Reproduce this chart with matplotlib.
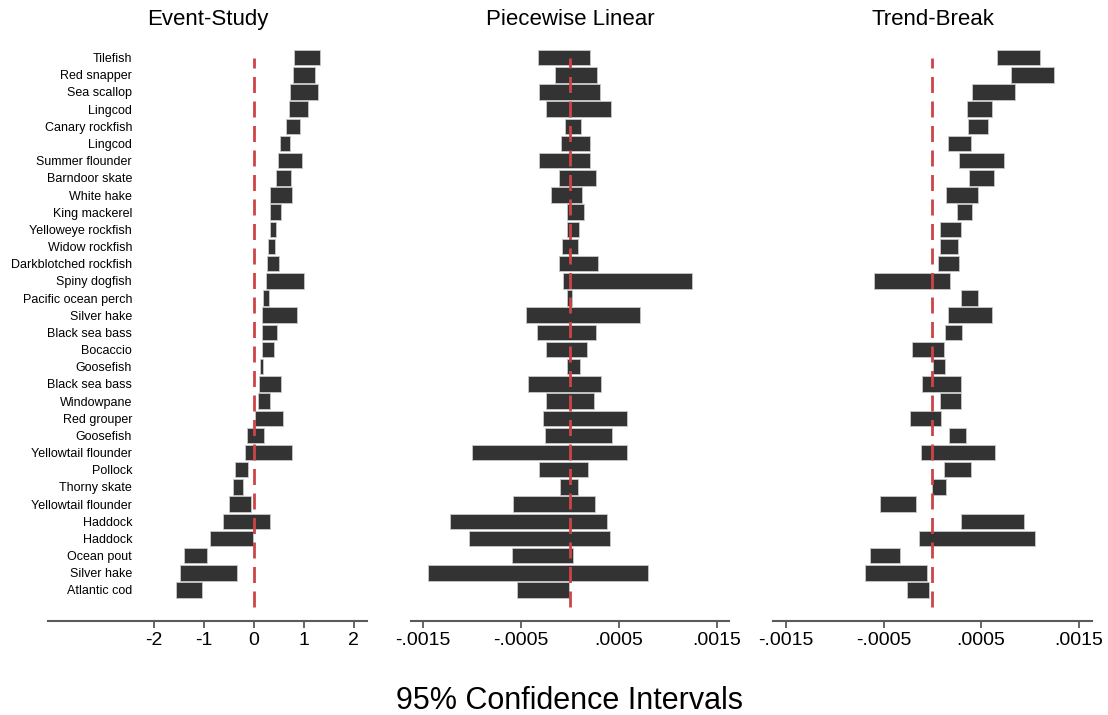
import numpy as np
import matplotlib
matplotlib.use("Agg")
import matplotlib.pyplot as plt

plt.rcParams["font.family"] = ["Liberation Sans", "DejaVu Sans"]
plt.rcParams["axes.unicode_minus"] = False

# species, top to bottom
species = [
    "Tilefish", "Red snapper", "Sea scallop", "Lingcod", "Canary rockfish",
    "Lingcod", "Summer flounder", "Barndoor skate", "White hake", "King mackerel",
    "Yelloweye rockfish", "Widow rockfish", "Darkblotched rockfish", "Spiny dogfish",
    "Pacific ocean perch", "Silver hake", "Black sea bass", "Bocaccio", "Goosefish",
    "Black sea bass", "Windowpane", "Red grouper", "Goosefish", "Yellowtail flounder",
    "Pollock", "Thorny skate", "Yellowtail flounder", "Haddock", "Haddock",
    "Ocean pout", "Silver hake", "Atlantic cod",
]

# Event-study 95% CI
es_lo = [0.81, 0.79, 0.73, 0.70, 0.65, 0.53, 0.49, 0.45, 0.33, 0.33,
         0.32, 0.29, 0.27, 0.25, 0.19, 0.17, 0.16, 0.16, 0.12, 0.11,
         0.08, 0.03, -0.14, -0.17, -0.37, -0.42, -0.49, -0.62, -0.87,
         -1.39, -1.47, -1.55]
es_hi = [1.33, 1.23, 1.29, 1.09, 0.93, 0.73, 0.97, 0.75, 0.77, 0.55,
         0.45, 0.43, 0.50, 1.00, 0.30, 0.87, 0.46, 0.41, 0.18, 0.55,
         0.32, 0.58, 0.21, 0.76, -0.11, -0.22, -0.05, 0.33, -0.01,
         -0.93, -0.33, -1.03]

# piecewise linear 95% CI, in units of 1e-4
pw_lo = [-3.21, -1.47, -3.15, -2.43, -0.44, -0.85, -3.18, -1.06, -1.95, -0.31,
         -0.24, -0.82, -1.10, -0.65, -0.31, -4.41, -3.38, -2.43, -0.27, -4.24,
         -2.43, -2.74, -2.53, -9.95, -3.08, -0.99, -5.74, -12.17, -10.26,
         -5.88, -14.46, -5.40]
pw_hi = [2.12, 2.80, 3.11, 4.17, 1.20, 2.12, 2.05, 2.67, 1.23, 1.47,
         0.96, 0.89, 2.94, 12.48, 0.24, 7.21, 2.67, 1.81, 1.06, 3.15,
         2.46, 5.81, 4.27, 5.88, 1.91, 0.89, 2.63, 3.83, 4.07,
         0.38, 8.03, -0.10]

# trend-break 95% CI, in units of 1e-4
tb_lo = [6.66, 8.06, 4.07, 3.52, 3.66, 1.61, 2.77, 3.76, 1.43, 2.53,
         0.82, 0.79, 0.58, -5.97, 2.94, 1.61, 1.30, -2.05, 0.07, -1.06,
         0.76, -2.28, 1.68, -1.13, 1.17, -0.03, -5.36, 2.97, -1.33,
         -6.38, -6.86, -2.56]
tb_hi = [11.00, 12.44, 8.44, 6.15, 5.71, 3.93, 7.32, 6.32, 4.65, 4.07,
         2.91, 2.63, 2.70, 1.81, 4.68, 6.09, 3.07, 1.20, 1.27, 2.91,
         2.91, 0.89, 3.45, 6.39, 3.97, 1.43, -1.64, 9.40, 10.55,
         -3.34, -0.51, -0.34]

titles = ["Event-Study", "Piecewise Linear", "Trend-Break"]
small_ticks = [-0.0015, -0.0005, 0.0005, 0.0015]
small_labels = ["-.0015", "-.0005", ".0005", ".0015"]

n = len(species)
ypos = np.arange(n, 0, -1)

fig = plt.figure(figsize=(11.08, 7.15), dpi=100)
bottom, height = 0.1319, 0.8122
ax1 = fig.add_axes([0.0436, bottom, 0.2874, height])
ax2 = fig.add_axes([0.3707, bottom, 0.2875, height])
ax3 = fig.add_axes([0.6979, bottom, 0.2879, height])

panels = [
    (ax1, np.array(es_lo), np.array(es_hi)),
    (ax2, np.array(pw_lo) * 1e-4, np.array(pw_hi) * 1e-4),
    (ax3, np.array(tb_lo) * 1e-4, np.array(tb_hi) * 1e-4),
]

for (ax, lo, hi), title in zip(panels, titles):
    ax.barh(ypos, hi - lo, left=lo, height=0.9, color="#333333",
            edgecolor="#c8c8c8", linewidth=0.6, zorder=2)
    # zero line, drawn bottom-up so the dash pattern starts at the bottom
    ax.plot([0, 0], [0, n], color="#cc4448", linewidth=2,
            linestyle=(0, (5.76, 3.06)), solid_capstyle="butt",
            dash_capstyle="butt", zorder=3)
    ax.set_ylim(-0.79, 33.03)
    ax.set_title(title, fontsize=16, pad=10.5)
    for s in "top right left".split():
        ax.spines[s].set_visible(False)
    ax.spines["bottom"].set_color("#5a5a5a")
    ax.spines["bottom"].set_linewidth(1.5)
    ax.tick_params(axis="x", colors="#5a5a5a", labelcolor="black",
                   labelsize=14, length=5, width=1.3, pad=3.5)

ax1.set_xlim(-4.108, 2.26)
ax1.set_xticks([-2, -1, 0, 1, 2], ["-2", "-1", "0", "1", "2"])
ax1.set_yticks(ypos, species)
ax1.tick_params(axis="y", length=0, labelsize=9, pad=-60.3)

for ax, lims in [(ax2, (-0.001622, 0.001629)), (ax3, (-0.00163, 0.001639))]:
    ax.set_xlim(*lims)
    ax.set_xticks(small_ticks, small_labels)
    ax.set_yticks([])

fig.text(0.5144, 0.008, "95% Confidence Intervals", fontsize=22,
         ha="center", va="baseline")

fig.savefig("out.png", dpi=100)
